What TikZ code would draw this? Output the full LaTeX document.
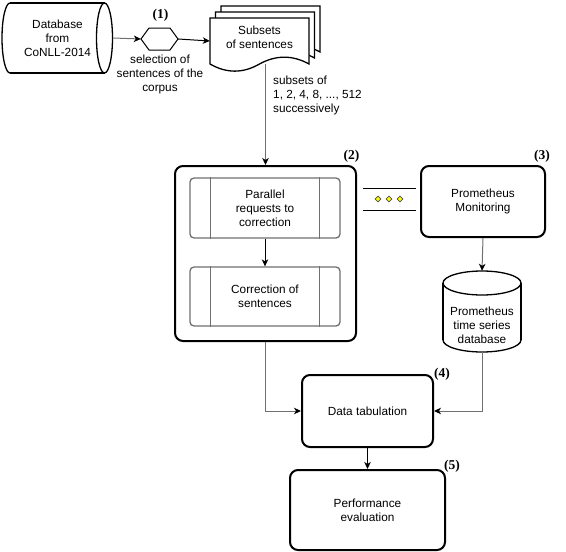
\documentclass[tikz,border=0pt]{standalone}
\usepackage{fontspec}
\setmainfont{Liberation Sans}
\newfontfamily\lblfont{Liberation Serif}
\usetikzlibrary{arrows.meta,shapes.geometric}
\definecolor{edgegray}{HTML}{707070}
\definecolor{diayellow}{HTML}{FFFF00}
\tikzset{
  txt/.style={font=\fontsize{11.8}{13.8}\selectfont, align=center, inner sep=0pt},
  numlbl/.style={font=\lblfont\bfseries\fontsize{13.5}{15}\selectfont, inner sep=0pt},
  bigbox/.style={draw=black, line width=2pt, rounded corners=8pt, fill=white, txt},
  procbox/.style={draw=edgegray, line width=1.3pt, rounded corners=4pt, fill=white, txt},
  shapeline/.style={draw=black, line width=1.3pt},
  tipk/.style={-{Stealth[length=7pt,width=6.5pt,inset=2pt,black]}},
  garrow/.style={tipk, draw=edgegray, line width=1pt},
  barrow/.style={tipk, draw=black, line width=1pt},
  dotdia/.style={diamond, draw=black!70, fill=diayellow, line width=0.6pt, inner sep=0pt, minimum size=6pt},
}
\newcommand\mydocshape[2]{%
  \begin{scope}[shift={(#1,#2)}]
    \draw[shapeline, fill=white] (0,0) -- (99,0) -- (99,46)
      .. controls (82.5,36.9) and (66,36.9) .. (49.5,46)
      .. controls (33,55.5) and (16.5,55.5) .. (0,46) -- cycle;
  \end{scope}}
\begin{document}
\begin{tikzpicture}[x=1pt,y=-1pt]
\useasboundingbox (0,0) rectangle (566,552);

% Horizontal cylinder (Database)
\draw[shapeline, fill=white] (10,38) ellipse [x radius=8, y radius=35];
\fill[white] (10,3) rectangle (104.5,73);
\draw[shapeline] (10,3) -- (104.5,3);
\draw[shapeline] (10,73) -- (104.5,73);
\draw[shapeline, fill=white] (104.5,38) ellipse [x radius=8, y radius=35];
\node[txt, minimum width=111, minimum height=70] (db) at (57.5,38) {Database\\from\\CoNLL-2014};

% Hexagon
\node[minimum width=37, minimum height=22, inner sep=0pt] (hex) at (159.5,39) {};
\draw[shapeline, line width=1pt, fill=white] (141,39) -- (149,28) -- (170,28) -- (178,39) -- (170,50) -- (149,50) -- cycle;
\node[numlbl] (l1) at (160.5,15) {(1)};
\node[txt, anchor=north] (sel) at (160,55) {selection of\\sentences of the\\corpus};

% Document stack
\mydocshape{221}{6}
\mydocshape{215.5}{12}
\mydocshape{210}{18}
\node[txt, minimum width=99, minimum height=46] (doc) at (259.5,41) {};
\node[txt] (doctext) at (259.5,37) {Subsets\\of sentences};

\draw[garrow] (db.east) -- (hex.west);
\draw[barrow] (hex.east) -- (doc.west);

% Box (2)
\node[bigbox, minimum width=181, minimum height=175] (p2) at (265.5,253.5) {};
\node[numlbl] (l2) at (351.5,156) {(2)};
\node[procbox, minimum width=150, minimum height=60] (r1) at (265,208) {Parallel\\requests to\\correction};
\draw[edgegray, line width=1.3pt] ([xshift=21pt]r1.north west) -- ([xshift=21pt]r1.south west);
\draw[edgegray, line width=1.3pt] ([xshift=-21pt]r1.north east) -- ([xshift=-21pt]r1.south east);
\node[procbox, minimum width=150, minimum height=59] (r2) at (265,296.5) {Correction of\\sentences};
\draw[edgegray, line width=1.3pt] ([xshift=21pt]r2.north west) -- ([xshift=21pt]r2.south west);
\draw[edgegray, line width=1.3pt] ([xshift=-21pt]r2.north east) -- ([xshift=-21pt]r2.south east);
\draw[barrow] (r1.south) -- (r2.north);

\draw[garrow] (p2.north |- doc.south) -- (p2.north);
\node[txt, align=left, anchor=west] (sub) at (273,95.5) {subsets of\\1, 2, 4, 8, ..., 512\\successively};

% Parallel link with dots
\coordinate (la) at (363,188);
\coordinate (lb) at (416,188);
\coordinate (lc) at (363,210);
\coordinate (ld) at (416,210);
\draw[black, line width=1pt] (la) -- (lb);
\draw[black, line width=1pt] (lc) -- (ld);
\node[dotdia] (d1) at (378,199) {};
\node[dotdia] (d2) at (389,199) {};
\node[dotdia] (d3) at (400,199) {};

% Prometheus
\node[bigbox, minimum width=124, minimum height=71] (prom) at (483,201.5) {Prometheus\\Monitoring};
\node[numlbl] (l3) at (542,156) {(3)};

% Vertical cylinder
\draw[shapeline, fill=white] (482,340) ellipse [x radius=39, y radius=12];
\fill[white] (443,283) rectangle (521,340);
\draw[shapeline] (443,283) -- (443,340);
\draw[shapeline] (521,283) -- (521,340);
\draw[shapeline, fill=white] (482,283) ellipse [x radius=39, y radius=12];
\node[txt, minimum width=78, minimum height=81] (pdb) at (482,311.5) {};
\node[txt] (pdbtext) at (482,325) {Prometheus\\time series\\database};
\draw[garrow] (prom.south) -- (pdb.north);

% Data tabulation
\node[bigbox, minimum width=131, minimum height=72] (tab) at (367.5,411) {Data tabulation};
\node[numlbl] (l4) at (442,374) {(4)};
\draw[garrow] (p2.south) |- (tab.west);
\draw[garrow] (pdb.south) |- (tab.east);

% Performance evaluation
\node[bigbox, minimum width=155, minimum height=80] (perf) at (367.5,510) {Performance\\evaluation};
\node[numlbl] (l5) at (452,466) {(5)};
\draw[barrow] (tab.south) -- (perf.north);
\end{tikzpicture}
\end{document}
